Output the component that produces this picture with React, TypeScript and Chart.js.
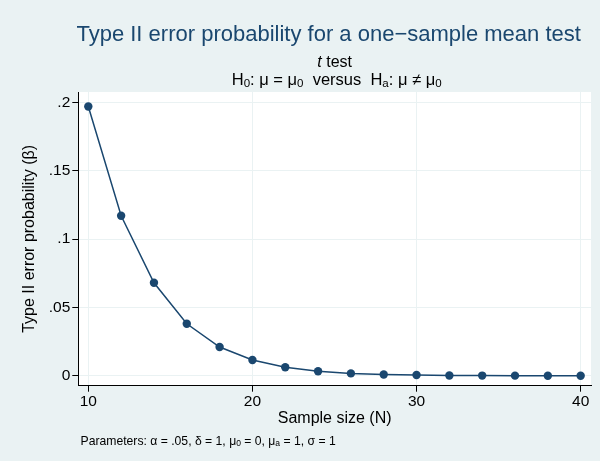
import React, { useEffect, useRef } from "react";
import { Chart, registerables } from "chart.js";

Chart.register(...registerables);

const sampleSizes = [10, 12, 14, 16, 18, 20, 22, 24, 26, 28, 30, 32, 34, 36, 38, 40];
const betaValues = [0.197, 0.117, 0.068, 0.038, 0.021, 0.0115, 0.0062, 0.0033, 0.0017, 0.0009, 0.0005, 0.0002, 0.0001, 0.00006, 0.00003, 0.00002];
const xTicks = [10, 20, 30, 40];
const yTicks = [0, 0.05, 0.1, 0.15, 0.2];
const yTickLabels = ["0", ".05", ".1", ".15", ".2"];

const titleText = "Type II error probability for a one\u2212sample mean test";
const xTitle = "Sample size (N)";
const yTitle = "Type II error probability (\u03b2)";
type Seg = [string, "n" | "s" | "i"];
const subtitle1: Seg[] = [["t", "i"], [" test", "n"]];
const subtitle2: Seg[] = [
  ["H", "n"], ["0", "s"], [": \u03bc = \u03bc", "n"], ["0", "s"],
  ["  versus  H", "n"], ["a", "s"], [": \u03bc \u2260 \u03bc", "n"], ["0", "s"],
];
const footnote: Seg[] = [
  ["Parameters: \u03b1 = .05, \u03b4 = 1, \u03bc", "n"], ["0", "s"], [" = 0, \u03bc", "n"], ["a", "s"],
  [" = 1, \u03c3 = 1", "n"],
];

const FONT = "'Liberation Sans', Arial, sans-serif";
const NAVY = "#1a476f";
const BG = "#eaf2f3";

function drawSegs(ctx: CanvasRenderingContext2D, segs: Seg[], x: number, y: number, size: number, align: "center" | "left") {
  const fontFor = (s: string) =>
    s === "s" ? `${size * 0.7}px ${FONT}` : s === "i" ? `italic ${size}px ${FONT}` : `${size}px ${FONT}`;
  let total = 0;
  for (const [t, s] of segs) {
    ctx.font = fontFor(s);
    total += ctx.measureText(t).width;
  }
  let cx = align === "center" ? x - total / 2 : x;
  ctx.textAlign = "left";
  ctx.textBaseline = "alphabetic";
  for (const [t, s] of segs) {
    ctx.font = fontFor(s);
    ctx.fillText(t, cx, s === "s" ? y + size * 0.12 : y);
    cx += ctx.measureText(t).width;
  }
}

const textPlugin = {
  id: "stataText",
  beforeDraw(chart: any) {
    const ctx = chart.ctx as CanvasRenderingContext2D;
    ctx.save();
    ctx.fillStyle = BG;
    ctx.fillRect(0, 0, chart.width, chart.height);
    const a = chart.chartArea;
    ctx.fillStyle = "#ffffff";
    ctx.fillRect(a.left, a.top, a.right - a.left, a.bottom - a.top);
    ctx.restore();
  },
  afterDraw(chart: any) {
    const ctx = chart.ctx as CanvasRenderingContext2D;
    const a = chart.chartArea;
    const cx = (a.left + a.right) / 2;
    ctx.save();
    ctx.fillStyle = NAVY;
    ctx.font = `22px ${FONT}`;
    ctx.textAlign = "center";
    ctx.textBaseline = "alphabetic";
    ctx.fillText(titleText, cx - 6, 41);
    ctx.fillStyle = "#000";
    drawSegs(ctx, subtitle1, cx, 67, 16, "center");
    drawSegs(ctx, subtitle2, cx + 2, 85, 16.5, "center");
    drawSegs(ctx, footnote, 80.5, 444.5, 12.2, "left");
    ctx.restore();
  },
};

export default function App() {
  const ref = useRef<HTMLCanvasElement>(null);
  useEffect(() => {
    document.body.style.margin = "0";
    const canvas = ref.current!;
    const chart = new Chart(canvas, {
      type: "line",
      data: {
        datasets: [
          {
            data: sampleSizes.map((n, i) => ({ x: n, y: betaValues[i] })),
            borderColor: NAVY,
            backgroundColor: NAVY,
            borderWidth: 1.5,
            pointRadius: 4.2,
            pointBorderWidth: 0,
            tension: 0,
          },
        ],
      },
      options: {
        responsive: false,
        animation: false,
        layout: { padding: { left: 0, right: 9, top: 92, bottom: 32.9 } },
        plugins: { legend: { display: false }, tooltip: { enabled: false } },
        scales: {
          x: {
            type: "linear",
            min: 9.39,
            max: 40.63,
            afterBuildTicks: (s: any) => {
              s.ticks = xTicks.map((v) => ({ value: v }));
            },
            afterFit: (s: any) => {
              s.height = 42.4;
            },
            grid: { color: BG, lineWidth: 1, tickColor: "#000", tickLength: 6, drawTicks: true },
            border: { color: "#000", width: 1 },
            ticks: { color: "#000", font: { family: FONT, size: 15.5 }, padding: 1, maxRotation: 0 },
            title: { display: true, text: xTitle, color: "#000", font: { family: FONT, size: 16 }, padding: { top: 0, bottom: 0 } },
          },
          y: {
            type: "linear",
            min: -0.0073,
            max: 0.2076,
            afterBuildTicks: (s: any) => {
              s.ticks = yTicks.map((v) => ({ value: v }));
            },
            afterFit: (s: any) => {
              s.width = 78.3;
            },
            grid: { color: BG, lineWidth: 1, tickColor: "#000", tickLength: 6, drawTicks: true },
            border: { color: "#000", width: 1 },
            ticks: {
              color: "#000",
              font: { family: FONT, size: 15.5 },
              padding: 2,
              callback: (v: any) => {
                const i = yTicks.findIndex((t) => Math.abs(t - v) < 1e-9);
                return i >= 0 ? yTickLabels[i] : "";
              },
            },
            title: { display: true, text: yTitle, color: "#000", font: { family: FONT, size: 16 }, padding: { top: 20, bottom: 0 } },
          },
        },
      } as any,
      plugins: [textPlugin],
    });
    return () => chart.destroy();
  }, []);
  return (
    <div style={{ width: 600, height: 461 }}>
      <canvas ref={ref} width={600} height={461} style={{ display: "block" }} />
    </div>
  );
}
